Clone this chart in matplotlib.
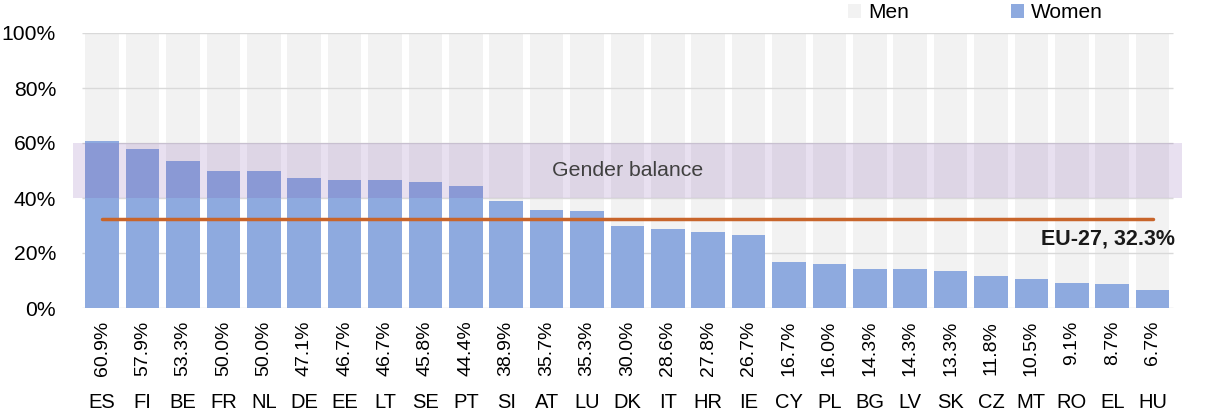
import matplotlib
matplotlib.use("Agg")
import matplotlib.pyplot as plt
import numpy as np

plt.rcParams['font.family'] = ['Liberation Sans', 'DejaVu Sans']

# share of women, sorted
countries = ["ES", "FI", "BE", "FR", "NL", "DE", "EE", "LT", "SE", "PT", "SI", "AT", "LU", "DK",
             "IT", "HR", "IE", "CY", "PL", "BG", "LV", "SK", "CZ", "MT", "RO", "EL", "HU"]
women = [60.9, 57.9, 53.3, 50.0, 50.0, 47.1, 46.7, 46.7, 45.8, 44.4, 38.9, 35.7, 35.3, 30.0,
         28.6, 27.8, 26.7, 16.7, 16.0, 14.3, 14.3, 13.3, 11.8, 10.5, 9.1, 8.7, 6.7]
men = [100 - w for w in women]
eu_avg = 32.3
balance_lo, balance_hi = 40, 60
yticks = [0, 20, 40, 60, 80, 100]

fig = plt.figure(figsize=(12.08, 4.16), dpi=100)
ax = fig.add_axes([72.7/1208, 108/416, 1109/1208, 275/416])

x = np.arange(len(countries))
b_men = ax.bar(x, men, bottom=women, width=0.834, color="#f2f2f2", zorder=2, label="Men")
b_women = ax.bar(x, women, width=0.834, color="#8eaadf", zorder=3, label="Women")

# gridlines between the two series
ax.hlines(yticks, -0.5, len(countries) - 0.5, color="#d9d9d9", lw=1.0, zorder=2.5)

# gender balance zone
ax.axhspan(balance_lo, balance_hi, color="#7849a7", alpha=0.17, lw=0, zorder=4)
ax.text(13, 50, "Gender balance", ha="center", va="center", fontsize=15.3, color="#404040", zorder=6)

# EU average
ax.plot([0, len(countries) - 1], [eu_avg, eu_avg], color="#c8652b", lw=2.5,
        solid_capstyle="round", zorder=5)
ax.text(26.55, 25.2, "EU-27, 32.3%", ha="right", va="center", fontsize=15.5,
        fontweight="bold", color="#1a1a1a", zorder=6)

# labels under the bars
trans = ax.get_xaxis_transform()
for xi, w, c in zip(x, women, countries):
    ax.text(xi, -0.046, f"{w:.1f}%", rotation=90, ha="center", va="top",
            fontsize=14, transform=trans)
    ax.text(xi, -0.344, c, ha="center", va="center", fontsize=14.5, transform=trans)

ax.set_xlim(-0.73, 26.72)
ax.set_ylim(0, 100)
ax.set_xticks([])
ax.set_yticks(yticks)
ax.set_yticklabels([f"{t}%" for t in yticks], fontsize=15.2)
ax.tick_params(axis="y", length=0, pad=12)
for s in ax.spines.values():
    s.set_visible(False)

fig.legend(handles=[b_men, b_women], loc="center left", bbox_to_anchor=(848/1208, 1 - 13/416),
           ncol=2, frameon=False, fontsize=15, borderpad=0, borderaxespad=0,
           handlelength=0.62, handleheight=0.62, handletextpad=0.33, columnspacing=4.9)

fig.savefig("out.png", dpi=100)
